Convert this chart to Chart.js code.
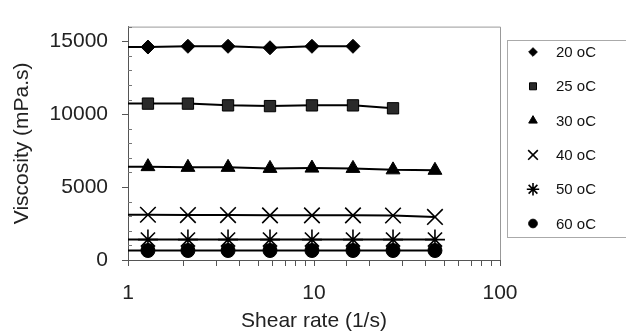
<!DOCTYPE html>
<html>
<head>
<meta charset="utf-8">
<script src="https://cdn.jsdelivr.net/npm/chart.js@4"></script>
<style>
  html, body { margin: 0; padding: 0; background: #fff; }
  #wrap { width: 626px; height: 332px; }
</style>
</head>
<body>
<div id="wrap"><canvas id="visc-chart" width="626" height="332"></canvas></div>
<script>
// data
const shearRate = [1.28, 2.1, 3.45, 5.8, 9.75, 16.2, 26.6, 44.7];
const lineStart = 1; // fitted lines start at the left edge
const temps = ['20 oC', '25 oC', '30 oC', '40 oC', '50 oC', '60 oC'];
const visc20 = [14600, 14650, 14650, 14550, 14650, 14650];
const visc25 = [10720, 10720, 10600, 10550, 10600, 10600, 10400];
const visc30 = [6400, 6350, 6350, 6280, 6300, 6280, 6180, 6150];
const visc40 = [3100, 3080, 3080, 3060, 3060, 3060, 3050, 2950];
const visc50 = [1400, 1400, 1400, 1400, 1400, 1400, 1400, 1400];
const visc60 = [650, 650, 650, 650, 650, 650, 650, 650];
const yTicks = [0, 5000, 10000, 15000];
const yMinorStep = 1000;
const xTickLabels = [1, 10, 100];

const FONT = "'Liberation Sans', Arial, sans-serif";
const series = [visc20, visc25, visc30, visc40, visc50, visc60];
const markers = [
    { style: 'rectRot', r: 7, fill: '#000', bw: 1 },
    { style: 'rect', r: 8, fill: '#2a2a2a', bw: 1 },
    { style: 'triangle', r: 8, fill: '#000', bw: 1 },
    { style: 'crossRot', r: 11, fill: '#000', bw: 1.6 },
    { style: 'star', r: 10, fill: '#000', bw: 1.6 },
    { style: 'circle', r: 7, fill: '#000', bw: 1 }
];

function buildPoints(vals) {
    const pts = [{ x: lineStart, y: vals[0] }];
    vals.forEach((v, i) => pts.push({ x: shearRate[i], y: v }));
    return pts;
}

const datasets = series.map((vals, k) => ({
    label: temps[k],
    data: buildPoints(vals),
    showLine: true,
    borderColor: '#000',
    borderWidth: 2,
    pointStyle: markers[k].style,
    pointRadius: c => c.dataIndex === 0 ? 0 : markers[k].r,
    pointBackgroundColor: markers[k].fill,
    pointBorderColor: '#000',
    pointBorderWidth: markers[k].bw
}));

// grey frame, minor y ticks and the boxed legend on the right
const framePlugin = {
    id: 'frame',
    afterDraw(chart) {
        const { ctx, chartArea: a } = chart;
        const y = chart.scales.y;
        ctx.save();
        ctx.strokeStyle = '#999';
        ctx.lineWidth = 1;
        ctx.beginPath();
        ctx.moveTo(a.left, a.top + 0.5);
        ctx.lineTo(a.right + 0.5, a.top + 0.5);
        ctx.lineTo(a.right + 0.5, a.bottom);
        ctx.stroke();

        ctx.strokeStyle = '#777';
        ctx.beginPath();
        for (let v = y.min; v <= y.max; v += yMinorStep) {
            if (yTicks.includes(v)) continue;
            const py = Math.round(y.getPixelForValue(v)) + 0.5;
            ctx.moveTo(a.left, py);
            ctx.lineTo(a.left + 4, py);
        }
        ctx.stroke();

        // legend
        const lx = 507, ly = 40, lw = 130, lh = 197;
        ctx.strokeStyle = '#aaa';
        ctx.strokeRect(lx + 0.5, ly + 0.5, lw, lh);
        ctx.font = '15px ' + FONT;
        ctx.textBaseline = 'middle';
        chart.data.datasets.forEach((ds, i) => {
            const ry = ly + 12 + i * 34.3;
            const m = markers[i];
            ctx.fillStyle = m.fill;
            ctx.strokeStyle = '#000';
            ctx.lineWidth = m.bw;
            Chart.helpers.drawPoint(ctx, { pointStyle: m.style, radius: m.r * 0.62, borderWidth: m.bw }, 533, ry);
            ctx.fillStyle = '#111';
            ctx.fillText(ds.label, 556, ry + 1);
        });
        ctx.restore();
    }
};

new Chart(document.getElementById('visc-chart').getContext('2d'), {
    type: 'scatter',
    data: { datasets },
    options: {
        responsive: false,
        animation: false,
        devicePixelRatio: 1,
        layout: { padding: { left: 0, right: 126, top: 10, bottom: 0 } },
        plugins: { legend: { display: false }, tooltip: { enabled: false } },
        scales: {
            x: {
                type: 'logarithmic',
                min: 1,
                max: 100,
                afterFit: s => { s.height = 72; },
                grid: { drawOnChartArea: false, tickLength: 6, color: '#555' },
                border: { color: '#555' },
                ticks: {
                    autoSkip: false,
                    maxRotation: 0,
                    padding: 15,
                    color: '#222',
                    font: { family: FONT, size: 21 },
                    callback: v => xTickLabels.includes(v) ? String(v) : ''
                },
                title: {
                    display: true,
                    text: 'Shear rate (1/s)',
                    color: '#222',
                    font: { family: FONT, size: 21 },
                    padding: { top: 0, bottom: -2 }
                }
            },
            y: {
                min: 0,
                max: 16000,
                afterFit: s => { s.width = 128; },
                afterBuildTicks: s => { s.ticks = yTicks.map(v => ({ value: v })); },
                grid: { drawOnChartArea: false, tickLength: 6, color: '#555' },
                border: { color: '#555' },
                ticks: {
                    padding: 14,
                    color: '#222',
                    font: { family: FONT, size: 21 },
                    callback: v => String(v)
                },
                title: {
                    display: true,
                    text: 'Viscosity (mPa.s)',
                    color: '#222',
                    font: { family: FONT, size: 21 },
                    padding: { top: 10, bottom: 0 }
                }
            }
        }
    },
    plugins: [framePlugin]
});
</script>
</body>
</html>
